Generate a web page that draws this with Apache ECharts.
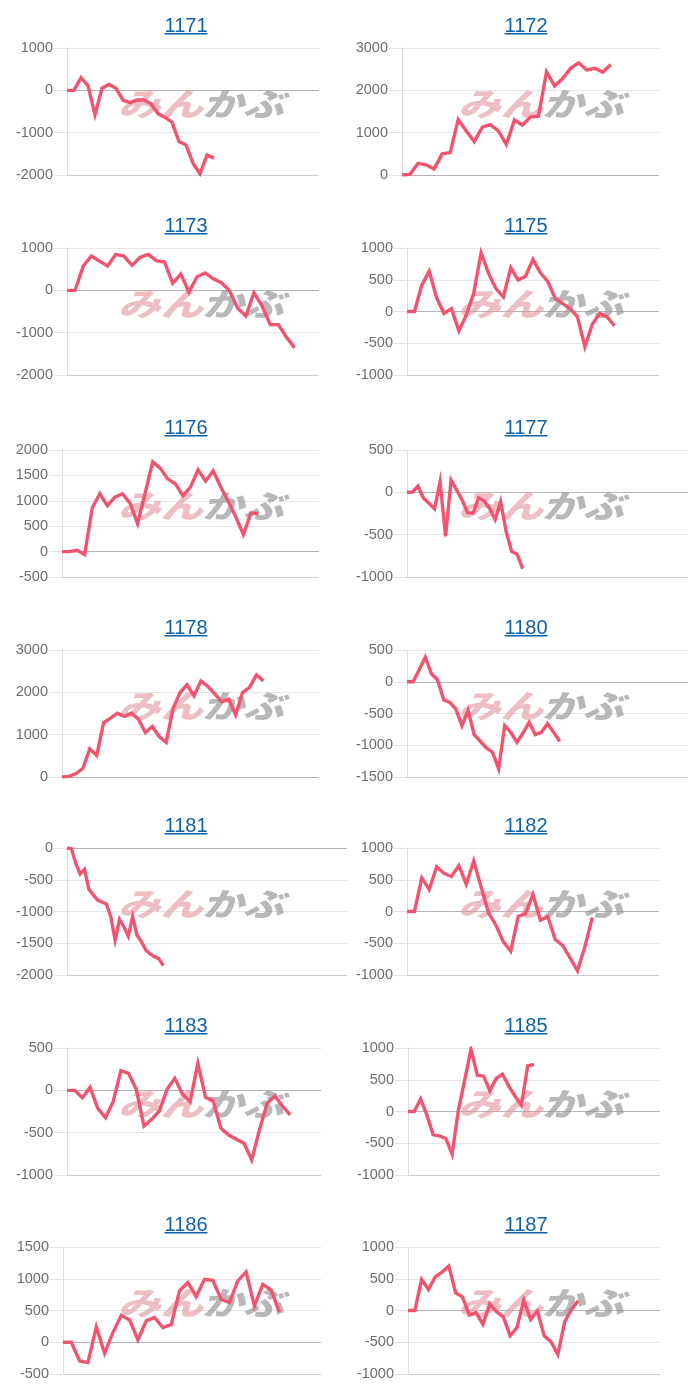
<!DOCTYPE html>
<html><head><meta charset="utf-8">
<style>html,body{margin:0;padding:0;background:#fff}#c{width:700px;height:1400px}</style>
<script src="https://cdn.jsdelivr.net/npm/echarts@6/dist/echarts.min.js"></script>
</head><body><div id="c"></div>
<script>
const codes=['1171','1172','1173','1175','1176','1177','1178','1180','1181','1182','1183','1185','1186','1187'];
const s1171=[0,0,300,110,-580,50,140,50,-230,-290,-230,-230,-320,-550,-640,-750,-1210,-1290,-1720,-1970,-1530,-1600];
const s1172=[0,15,275,240,140,500,530,1310,1040,790,1130,1190,1040,720,1300,1180,1370,1390,2440,2100,2280,2520,2650,2480,2520,2430,2610];
const s1173=[0,0,575,810,690,575,850,810,590,780,850,700,670,165,385,-40,320,410,270,180,-10,-425,-605,-55,-370,-810,-810,-1110,-1360];
const s1175=[0,0,415,635,215,-30,45,-305,-55,285,925,600,360,230,690,495,555,820,610,470,205,125,45,-85,-555,-200,-30,-85,-225];
const s1176=[0,0,25,-60,857,1139,903,1073,1139,955,550,1150,1767,1643,1427,1335,1100,1270,1610,1387,1590,1270,988,680,334,760,746];
const s1177=[0,4,75,-70,-130,-195,125,-520,145,30,-90,-240,-245,-65,-100,-190,-320,-110,-465,-700,-730,-905];
const s1178=[0,15,80,200,668,510,1288,1390,1508,1430,1508,1367,1052,1193,957,817,1626,1995,2176,1917,2270,2137,1964,1775,1838,1469,1995,2120,2411,2270];
const s1180=[0,0,188,387,126,31,-283,-325,-429,-691,-450,-832,-937,-1041,-1110,-1372,-691,-796,-953,-806,-639,-832,-796,-660,-796,-937];
const s1181=[0,-10,-241,-409,-336,-651,-740,-819,-850,-882,-1081,-1449,-1123,-1239,-1386,-1081,-1370,-1475,-1606,-1669,-1711,-1743,-1853];
const s1182=[0,0,530,346,705,600,551,724,430,798,388,-21,-215,-478,-625,-79,-31,268,-136,-84,-441,-535,-730,-934,-556,-94];
const s1183=[0,0,-87,35,-213,-323,-134,232,201,12,-421,-343,-244,12,142,-43,-134,319,-83,-126,-449,-528,-579,-626,-823,-469,-154,-67,-185,-291];
const s1185=[0,0,199,-58,-367,-383,-425,-672,21,493,981,572,556,325,520,588,399,241,100,719,740];
const s1186=[0,0,-294,-320,241,-173,152,425,352,37,336,388,231,278,808,940,719,992,976,677,625,966,1108,572,913,824,478];
const s1187=[0,0,488,331,530,604,698,278,215,-73,-37,-215,100,-21,-100,-399,-268,163,-142,-10,-399,-493,-693,-178,16,152];
const seriesValues=[s1171,s1172,s1173,s1175,s1176,s1177,s1178,s1180,s1181,s1182,s1183,s1185,s1186,s1187];
const slots=[36,32,31,34,34,51,37,46,64,34,33,40,31,37];
const yMin=[-2000,0,-2000,-1000,-500,-1000,0,-1500,-2000,-1000,-1000,-1000,-500,-1000];
const yMax=[1000,3000,1000,1000,2000,500,3000,500,0,1000,500,1000,1500,1000];
const yStep=[1000,1000,1000,500,500,500,1000,500,500,500,500,500,500,500];

const gridTops=[48,248,450,650,848,1048,1247];
const leftEdges=[67,402,67,407,62,407,62,407,67,407,67,408,63,408];
const rightEdges=[319,659,319,659,319,688,319,688,347,659,321,660,321,660];
const LINE='#f2536f', TITLE='#0f62a6', LABEL='#6e6e6e';
const FONT='"Liberation Sans",Arial,sans-serif';

const grid=[],xAxis=[],yAxis=[],series=[],title=[],graphic=[];
codes.forEach((code,i)=>{
  const col=i%2, top=gridTops[Math.floor(i/2)];
  const L=leftEdges[i], R=rightEdges[i], cx=col?526:186, wx=col?460:120;
  grid.push({left:L,top:top,width:R-L,height:127,containLabel:false});
  xAxis.push({type:'category',gridIndex:i,boundaryGap:false,
    data:Array.from({length:slots[i]+1},(_,k)=>String(k)),
    axisLine:{show:false},axisTick:{show:false},axisLabel:{show:false},splitLine:{show:false}});
  const n=Math.round((yMax[i]-yMin[i])/yStep[i]);
  const colors=[];
  for(let k=0;k<=n;k++){
    const v=yMin[i]+k*yStep[i];
    colors.push(v===0?'#b4b4b4':(k===0?'#cccccc':'#e6e6e6'));
  }
  yAxis.push({type:'value',gridIndex:i,min:yMin[i],max:yMax[i],interval:yStep[i],
    axisLine:{show:true,onZero:false,lineStyle:{color:'#dedede',width:1}},
    axisTick:{show:true,length:13,lineStyle:{color:'#e2e2e2',width:1}},
    axisLabel:{margin:14,color:LABEL,fontSize:14.5,fontFamily:FONT,formatter:v=>String(v)},
    splitLine:{show:true,lineStyle:{color:colors,width:1}}});
  series.push({type:'line',xAxisIndex:i,yAxisIndex:i,data:seriesValues[i],symbol:'none',smooth:false,z:5,
    lineStyle:{color:LINE,width:3.4,join:'miter',miterLimit:10,cap:'butt'},silent:true,animation:false});
  title.push({text:code,link:'#',left:cx,top:top-32,padding:0,textAlign:'center',
    textStyle:{color:TITLE,fontSize:20,fontWeight:'normal',fontFamily:FONT}});
  graphic.push({type:'rect',silent:true,z:6,shape:{x:cx-21.5,y:top-15,width:43,height:1.4},style:{fill:TITLE}});
  graphic.push({type:'text',silent:true,z:1,x:wx-2,y:top+40,scaleX:1.12,scaleY:0.84,style:{text:'みん',fill:'rgba(226,150,158,0.62)',
    font:'italic 900 38px "Noto Sans CJK JP"'}});
  graphic.push({type:'text',silent:true,z:1,x:wx+82,y:top+40,scaleX:1.08,scaleY:0.84,style:{text:'かぶ',fill:'rgba(150,150,150,0.68)',
    font:'italic 900 38px "Noto Sans CJK JP"'}});
});
const chart=echarts.init(document.getElementById('c'));
chart.setOption({animation:false,backgroundColor:'#fff',title,grid,xAxis,yAxis,series,graphic});
</script></body></html>
